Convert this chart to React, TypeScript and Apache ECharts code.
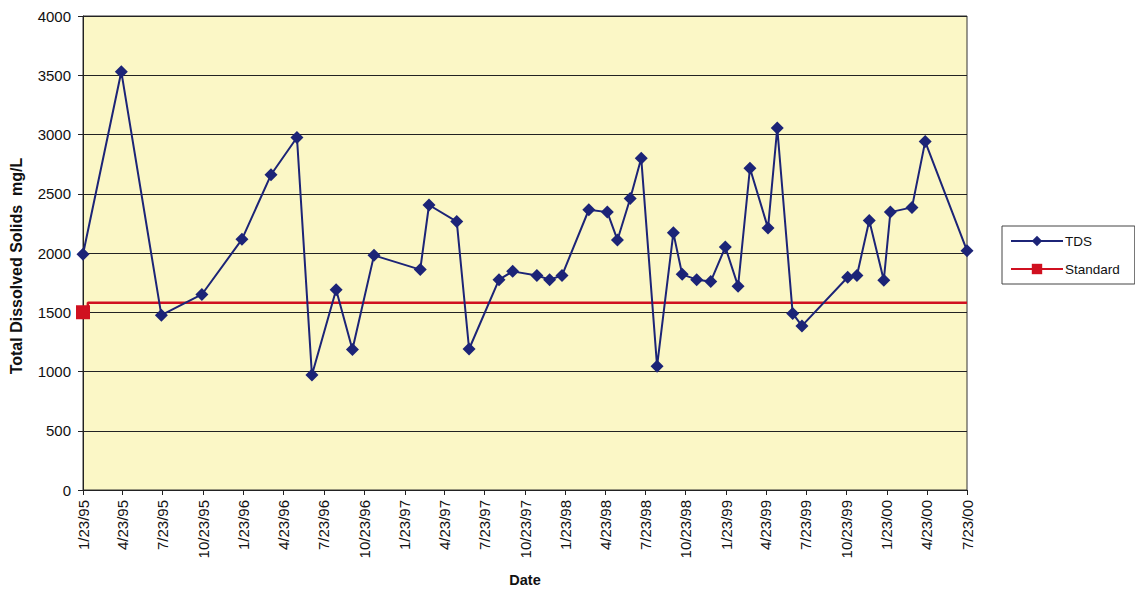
import React, { useEffect, useRef } from "react";
import * as echarts from "echarts";

// Sampling dates and measured TDS (mg/L)
const tdsDates = [
  "1995-01-23", "1995-04-20", "1995-07-20", "1995-10-20", "1996-01-19",
  "1996-03-25", "1996-05-23", "1996-06-26", "1996-08-20", "1996-09-26",
  "1996-11-14", "1997-02-27", "1997-03-19", "1997-05-21", "1997-06-18",
  "1997-08-25", "1997-09-25", "1997-11-19", "1997-12-18", "1998-01-15",
  "1998-03-17", "1998-04-28", "1998-05-21", "1998-06-19", "1998-07-14",
  "1998-08-19", "1998-09-25", "1998-10-15", "1998-11-17", "1998-12-19",
  "1999-01-21", "1999-02-19", "1999-03-18", "1999-04-28", "1999-05-19",
  "1999-06-23", "1999-07-14", "1999-10-26", "1999-11-16", "1999-12-14",
  "2000-01-16", "2000-01-31", "2000-03-20", "2000-04-19", "2000-07-23",
];
const tdsValues = [
  1990, 3530, 1475, 1650, 2115,
  2660, 2975, 970, 1690, 1185,
  1980, 1860, 2405, 2265, 1190,
  1775, 1845, 1810, 1775, 1810,
  2365, 2345, 2110, 2460, 2800,
  1045, 2170, 1820, 1775, 1760,
  2050, 1720, 2715, 2210, 3055,
  1490, 1385, 1795, 1810, 2275,
  1770, 2345, 2385, 2940, 2020,
];

// Standard reference line
const standardDates = ["1995-01-23", "1995-02-03", "1995-02-03", "2000-07-23"];
const standardValues = [1500, 1500, 1580, 1580];

// Quarterly date ticks
const tickDates = [
  "1995-01-23", "1995-04-23", "1995-07-23", "1995-10-23",
  "1996-01-23", "1996-04-23", "1996-07-23", "1996-10-23",
  "1997-01-23", "1997-04-23", "1997-07-23", "1997-10-23",
  "1998-01-23", "1998-04-23", "1998-07-23", "1998-10-23",
  "1999-01-23", "1999-04-23", "1999-07-23", "1999-10-23",
  "2000-01-23", "2000-04-23", "2000-07-23",
];

const yTitle = "Total Dissolved Solids  mg/L";

const DAY = 86400000;

function utc(s: string): number {
  const [y, m, d] = s.split("-").map(Number);
  return Date.UTC(y, m - 1, d);
}

const BASE = utc(tickDates[0]);

// x position as whole days since the first tick date
function dayOf(s: string): number {
  return Math.round((utc(s) - BASE) / DAY);
}

function fmtDay(n: number): string {
  const d = new Date(BASE + Math.round(n) * DAY);
  return `${d.getUTCMonth() + 1}/${d.getUTCDate()}/${String(d.getUTCFullYear()).slice(2)}`;
}

const FONT = 'Arial, "Liberation Sans", sans-serif';

export default function App() {
  const ref = useRef<HTMLDivElement>(null);

  useEffect(() => {
    document.body.style.margin = "0";
    if (!ref.current) return;
    const chart = echarts.init(ref.current, undefined, { renderer: "svg" });
    const ticks = tickDates.map(dayOf);

    chart.setOption({
      animation: false,
      backgroundColor: "#ffffff",
      textStyle: { fontFamily: FONT },
      grid: {
        left: 83,
        right: 168,
        top: 16,
        bottom: 100,
        outerBoundsMode: "none",
        containLabel: false,
        show: true,
        backgroundColor: "#fbf7c6",
        borderColor: "#333333",
        borderWidth: 1,
      },
      graphic: [
        {
          type: "text",
          x: 16,
          y: 266,
          rotation: Math.PI / 2,
          style: {
            text: yTitle,
            fontSize: 16,
            fontWeight: "bold",
            fontFamily: FONT,
            fill: "#111",
            align: "center",
            verticalAlign: "middle",
          },
        },
      ],
      legend: {
        orient: "vertical",
        left: 1002,
        top: 226,
        padding: [8, 15, 8, 8],
        itemGap: 14,
        itemWidth: 52,
        itemHeight: 13,
        borderColor: "#444444",
        borderWidth: 1,
        backgroundColor: "#ffffff",
        textStyle: { fontSize: 13.5, color: "#111", fontFamily: FONT, padding: [0, 0, 0, -3] },
        data: ["TDS", "Standard"],
      },
      xAxis: {
        type: "value",
        min: ticks[0],
        max: ticks[ticks.length - 1],
        name: "Date",
        nameLocation: "middle",
        nameGap: 82,
        nameTextStyle: { fontSize: 14.5, fontWeight: "bold", color: "#111", fontFamily: FONT },
        axisLine: { show: true, lineStyle: { color: "#222", width: 1 } },
        axisTick: { show: true, customValues: ticks, length: 5, lineStyle: { color: "#222" } },
        axisLabel: {
          customValues: ticks,
          rotate: 90,
          fontSize: 15,
          color: "#111",
          margin: 10,
          fontFamily: FONT,
          formatter: (v: number) => fmtDay(v),
        },
        splitLine: { show: false },
      },
      yAxis: {
        type: "value",
        min: 0,
        max: 4000,
        interval: 500,
        axisLine: { show: true, lineStyle: { color: "#222", width: 1 } },
        axisTick: { show: true, length: 5, lineStyle: { color: "#222" } },
        axisLabel: {
          fontSize: 15,
          color: "#111",
          margin: 12,
          fontFamily: FONT,
          formatter: (v: number) => String(v),
        },
        splitLine: { show: true, lineStyle: { color: "#222", width: 1 } },
      },
      series: [
        {
          name: "Standard",
          type: "line",
          symbol: "rect",
          symbolSize: 14,
          color: "#d01020",
          lineStyle: { color: "#d01020", width: 2.5 },
          itemStyle: { color: "#d01020" },
          z: 2,
          data: standardDates.map((d, i) =>
            i === 0
              ? { value: [dayOf(d), standardValues[i]] }
              : { value: [dayOf(d), standardValues[i]], symbol: "none" }
          ),
        },
        {
          name: "TDS",
          type: "line",
          symbol: "diamond",
          symbolSize: 13,
          showAllSymbol: true,
          color: "#1c2477",
          lineStyle: { color: "#1c2477", width: 2 },
          itemStyle: { color: "#1c2477" },
          z: 3,
          data: tdsDates.map((d, i) => [dayOf(d), tdsValues[i]]),
        },
      ],
    });

    return () => chart.dispose();
  }, []);

  return (
    <div
      ref={ref}
      style={{ position: "absolute", left: 0, top: 0, width: 1135, height: 590 }}
    />
  );
}
